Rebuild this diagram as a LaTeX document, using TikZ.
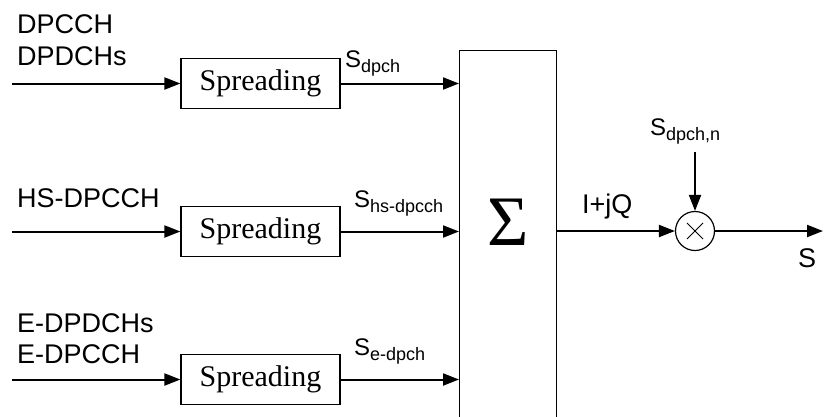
\documentclass[tikz,border=0pt]{standalone}
\usepackage{fontspec}
\setmainfont{Liberation Sans}
\newfontfamily\tnr{Liberation Serif}
\usetikzlibrary{arrows.meta}
\newcommand\lsub[1]{\raisebox{-5pt}{\fontsize{18}{18}\selectfont #1}}
\begin{document}
\begin{tikzpicture}[x=1pt,y=-1pt,
  conn/.style={line width=2pt,-{Triangle[length=16pt,width=12pt]}},
  spbox/.style={draw,line width=1.2pt,minimum width=159pt,minimum height=50pt,inner sep=0pt,font=\tnr\fontsize{30}{30}\selectfont},
  lbl/.style={inner sep=0pt,anchor=base west,font=\fontsize{27}{27}\selectfont},
  slbl/.style={inner sep=0pt,anchor=base west,font=\fontsize{24}{24}\selectfont},
  ]
\clip (0,0) rectangle (824,416);
\fill[white] (0,0) rectangle (824,416);

% sum block
\node[draw,line width=1.2pt,minimum width=97pt,minimum height=420pt,anchor=north west,inner sep=0pt] (sumbox) at (459,50) {};
\node[inner sep=0pt,anchor=base,font=\tnr\fontsize{71}{71}\selectfont] (sigma) at (508,245) {Σ};

% spreading boxes
\node[spbox] (b1) at (260.5,83.5) {Spreading};
\node[spbox] (b2) at (260.5,231.5) {Spreading};
\node[spbox] (b3) at (260.5,379.5) {Spreading};

\coordinate (in1) at (12,83.5);
\coordinate (in2) at (12,231.5);
\coordinate (in3) at (12,379.5);

\draw[conn] (in1) -- (b1);
\draw[conn] (in2) -- (b2);
\draw[conn] (in3) -- (b3);
\draw[conn] (b1) -- (b1 -| sumbox.west);
\draw[conn] (b2) -- (b2 -| sumbox.west);
\draw[conn] (b3) -- (b3 -| sumbox.west);

% multiplier
\node[circle,draw,line width=1.2pt,minimum size=39pt,inner sep=0pt] (mul) at (695,231) {};
\draw[line width=1pt] ([shift={(-8,-8)}]mul.center) -- ([shift={(8,8)}]mul.center);
\draw[line width=1pt] ([shift={(-8,8)}]mul.center) -- ([shift={(8,-8)}]mul.center);
\coordinate (nin) at (695,152);
\coordinate (out) at (823,231);
\draw[conn] (sumbox.east |- mul) -- (mul);
\draw[conn] (nin) -- (mul);
\draw[conn] (mul) -- (out);

% labels
\node[lbl] (l1a) at (17,33) {DPCCH};
\node[lbl] (l1b) at (17,65) {DPDCHs};
\node[lbl] (l2) at (17,207) {HS-DPCCH};
\node[lbl] (l3a) at (17,332) {E-DPDCHs};
\node[lbl] (l3b) at (17,363) {E-DPCCH};

\node[slbl] (s1) at (345,67) {S\lsub{dpch}};
\node[slbl] (s2) at (354,207) {S\lsub{hs-dpcch}};
\node[slbl] (s3) at (354,355) {S\lsub{e-dpch}};
\node[lbl] (iq) at (582,213) {I+jQ};
\node[slbl] (sn) at (650,135) {S\lsub{dpch,n}};
\node[lbl] (so) at (798,267) {S};
\end{tikzpicture}
\end{document}
